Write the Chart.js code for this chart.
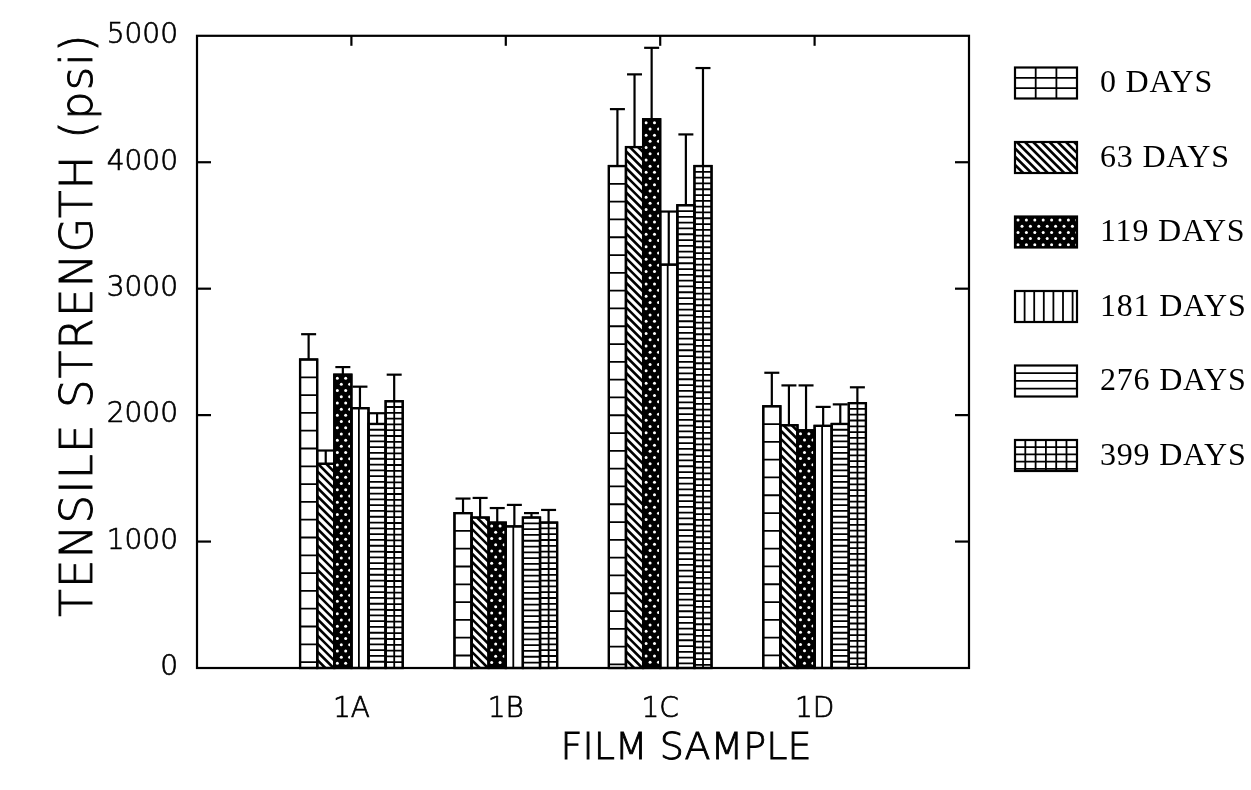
<!DOCTYPE html>
<html>
<head>
<meta charset="utf-8">
<script src="https://cdn.jsdelivr.net/npm/chart.js@4"></script>
<style>
  html, body { margin: 0; padding: 0; background: #fff; }
</style>
</head>
<body>
<canvas id="grafico" width="1251" height="790"></canvas>
<script>
const muestras = ['1A', '1B', '1C', '1D'];
const dias = ['0 DAYS', '63 DAYS', '119 DAYS', '181 DAYS', '276 DAYS', '399 DAYS'];
const ticksY = [0, 1000, 2000, 3000, 4000, 5000];

// resistencia media por muestra (psi)
const dia0 = [2440, 1225, 3970, 2070];
const dia63 = [1720, 1190, 4120, 1920];
const dia119 = [2320, 1150, 4340, 1880];
const dia181 = [2055, 1120, 3610, 1915];
const dia276 = [2015, 1190, 3660, 1930];
const dia399 = [2110, 1150, 3970, 2095];

// barras de error: positivo hacia arriba, negativo hacia abajo (dentro de la barra)
const err0 = [200, 115, 450, 265];
const err63 = [-105, 155, 575, 315];
const err119 = [60, 115, 565, 355];
const err181 = [170, 170, -420, 150];
const err276 = [-85, 35, 560, 155];
const err399 = [210, 100, 775, 125];

const valores = [dia0, dia63, dia119, dia181, dia276, dia399];
const errores = [err0, err63, err119, err181, err276, err399];

// el eje x tiene un hueco vacio a cada lado
const etiquetas = [''].concat(muestras, ['']);
const relleno = arr => [null].concat(arr, [null]);

function linea(ctx, x1, y1, x2, y2) {
    ctx.beginPath();
    ctx.moveTo(x1, y1);
    ctx.lineTo(x2, y2);
    ctx.stroke();
}

// tramas de cada serie, dibujadas dentro del rectangulo (l, t, r, b)
function rayasH(ctx, l, t, r, b, paso) {
    for (let y = t + paso; y < b - 1; y += paso) linea(ctx, l, y, r, y);
}
function rayasV(ctx, l, t, r, b, paso, inicio) {
    for (let x = l + inicio; x < r - 1; x += paso) linea(ctx, x, t, x, b);
}
const tramas = [
    (ctx, l, t, r, b, ley) => {
        rayasH(ctx, l, t, r, b, ley ? 10.3 : 17.8);
        if (ley) rayasV(ctx, l, t, r, b, 20.7, 20.7);
    },
    (ctx, l, t, r, b) => {
        ctx.lineWidth = 2.6;
        const alto = b - t;
        for (let x = l - alto; x < r + 8; x += 8.2) linea(ctx, x, t, x + alto, b);
    },
    (ctx, l, t, r, b) => {
        ctx.fillStyle = '#000';
        ctx.fillRect(l, t, r - l, b - t);
        ctx.fillStyle = '#fff';
        let fila = 0;
        for (let y = t + 3.5; y < b; y += 6.2, fila++) {
            for (let x = l + (fila % 2 ? 7 : 3); x < r; x += 8.4) {
                ctx.beginPath();
                ctx.arc(x, y, 1.5, 0, Math.PI * 2);
                ctx.fill();
            }
        }
    },
    (ctx, l, t, r, b, ley) => rayasV(ctx, l, t, r, b, 9.6, ley ? 9.6 : 7.5),
    (ctx, l, t, r, b, ley) => rayasH(ctx, l, t, r, b, ley ? 7.7 : 5.8),
    (ctx, l, t, r, b, ley) => {
        rayasH(ctx, l, t, r, b, ley ? 7.2 : 5.8);
        rayasV(ctx, l, t, r, b, ley ? 10.3 : 8.6, ley ? 10.3 : 8.6);
    }
];

function dibujarTrama(ctx, i, l, t, r, b, ley) {
    ctx.save();
    ctx.beginPath();
    ctx.rect(l, t, r - l, b - t);
    ctx.clip();
    ctx.strokeStyle = '#000';
    ctx.lineWidth = 1.8;
    tramas[i](ctx, l, t, r, b, ley);
    ctx.restore();
    ctx.save();
    ctx.strokeStyle = '#000';
    ctx.lineWidth = 2.2;
    ctx.strokeRect(l, t, r - l, b - t);
    ctx.restore();
}

const tramasBarras = {
    id: 'tramasBarras',
    afterDatasetsDraw(chart) {
        const ctx = chart.ctx;
        const y = chart.scales.y;
        chart.data.datasets.forEach((ds, i) => {
            chart.getDatasetMeta(i).data.forEach((barra, j) => {
                if (ds.data[j] == null) return;
                const err = errores[i][j - 1];
                const l = barra.x - barra.width / 2;
                const r = barra.x + barra.width / 2;
                const top = barra.y;
                const base = barra.base;
                const tope = err < 0 ? y.getPixelForValue(ds.data[j] + err) : top;
                dibujarTrama(ctx, i, l, tope, r, base, false);
                ctx.save();
                ctx.strokeStyle = '#000';
                ctx.lineWidth = 2.2;
                ctx.strokeRect(l, top, r - l, base - top);
                // barra de error
                const extremo = y.getPixelForValue(ds.data[j] + err);
                linea(ctx, barra.x, top, barra.x, extremo);
                linea(ctx, barra.x - 7.5, extremo, barra.x + 7.5, extremo);
                ctx.restore();
            });
        });
    }
};

const fuenteEjes = '"DejaVu Sans", sans-serif';

function textoGrueso(ctx, txt, x, y) {
    ctx.fillText(txt, x, y);
    ctx.strokeText(txt, x, y);
}

const marco = {
    id: 'marco',
    afterDraw(chart) {
        const ctx = chart.ctx;
        const a = chart.chartArea;
        const x = chart.scales.x;
        const y = chart.scales.y;
        ctx.save();
        ctx.strokeStyle = '#000';
        ctx.lineWidth = 2.2;
        ctx.strokeRect(a.left, a.top, a.right - a.left, a.bottom - a.top);
        ticksY.slice(1, -1).forEach(v => {
            const py = y.getPixelForValue(v);
            linea(ctx, a.left, py, a.left + 14, py);
            linea(ctx, a.right - 14, py, a.right, py);
        });
        muestras.forEach((m, i) => {
            const px = x.getPixelForTick(i + 1);
            linea(ctx, px, a.top, px, a.top + 10);
        });

        // titulos de los ejes
        ctx.fillStyle = '#000';
        ctx.lineWidth = 0.9;
        ctx.textAlign = 'center';
        ctx.textBaseline = 'middle';
        ctx.font = '200 38px ' + fuenteEjes;
        textoGrueso(ctx, 'FILM SAMPLE', 686, 749);
        ctx.save();
        ctx.translate(80, 325);
        ctx.rotate(-Math.PI / 2);
        ctx.font = '200 45px ' + fuenteEjes;
        ctx.letterSpacing = '1.2px';
        textoGrueso(ctx, 'TENSILE STRENGTH (psi)', 0, 0);
        ctx.restore();

        // leyenda
        ctx.textAlign = 'left';
        ctx.font = '32px "Liberation Serif", serif';
        ctx.letterSpacing = '0.8px';
        dias.forEach((d, i) => {
            const cy = 83 + i * 74.5;
            ctx.fillStyle = '#fff';
            ctx.fillRect(1015, cy - 15.5, 62, 31);
            dibujarTrama(ctx, i, 1015, cy - 15.5, 1077, cy + 15.5, true);
            ctx.fillStyle = '#000';
            ctx.fillText(d, 1100, cy + 1);
        });
        ctx.restore();
    }
};

const fuenteTicks = { family: fuenteEjes, size: 28, weight: '200' };

const grafico = new Chart(document.getElementById('grafico'), {
    type: 'bar',
    data: {
        labels: etiquetas,
        datasets: dias.map((d, i) => ({
            label: d,
            data: relleno(valores[i]),
            backgroundColor: '#fff',
            borderColor: '#000',
            borderWidth: 0,
            categoryPercentage: 0.665,
            barPercentage: 1
        }))
    },
    options: {
        responsive: false,
        animation: false,
        devicePixelRatio: 1,
        layout: { padding: { top: 31, right: 282, left: 0, bottom: 0 } },
        plugins: { legend: { display: false }, tooltip: { enabled: false } },
        scales: {
            x: {
                offset: false,
                grid: { display: false, drawTicks: false },
                border: { display: false },
                ticks: {
                    autoSkip: false,
                    maxRotation: 0,
                    padding: 25,
                    color: '#000',
                    textStrokeColor: '#000',
                    textStrokeWidth: 0.7,
                    font: fuenteTicks
                },
                afterFit: s => { s.height = 122; }
            },
            y: {
                min: 0,
                max: 5000,
                grid: { display: false, drawTicks: false },
                border: { display: false },
                afterBuildTicks: s => { s.ticks = ticksY.map(v => ({ value: v })); },
                ticks: {
                    padding: 19,
                    color: '#000',
                    textStrokeColor: '#000',
                    textStrokeWidth: 0.7,
                    font: fuenteTicks,
                    callback: v => String(v)
                },
                afterFit: s => { s.width = 197; }
            }
        }
    },
    plugins: [tramasBarras, marco]
});
</script>
</body>
</html>
